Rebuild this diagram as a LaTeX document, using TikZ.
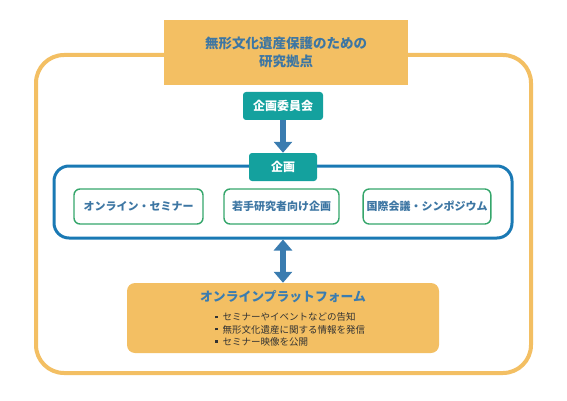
\documentclass[tikz,border=0pt]{standalone}
\usepackage{fontspec}
\setmainfont{Noto Sans CJK JP}
\usetikzlibrary{arrows.meta}
\definecolor{basefill}{HTML}{F3BF63}
\definecolor{teamfill}{HTML}{14A19E}
\definecolor{framecol}{HTML}{1A79B4}
\definecolor{arrowcol}{HTML}{3A7CB0}
\definecolor{itemcol}{HTML}{35A66B}
\definecolor{labelcol}{HTML}{3D76A3}
\definecolor{listcol}{HTML}{333333}
\newcommand{\listdot}{\raisebox{2.6pt}{\rule{2.4pt}{2.4pt}}\hspace{5pt}}

\tikzset{
  titlebox/.style={fill=basefill, minimum width=244pt, minimum height=65pt,
    align=center, text=labelcol, font=\fontsize{13.5}{18}\selectfont\bfseries},
  teambox/.style={fill=teamfill, rounded corners=3pt, text=white,
    minimum height=28pt, font=\fontsize{12}{14}\selectfont\bfseries},
  itembox/.style={draw=itemcol, line width=1.4pt, rounded corners=6pt, fill=white,
    minimum height=35pt, text=labelcol, font=\fontsize{11}{13}\selectfont\bfseries},
  bigarrow/.style={arrowcol, line width=5.5pt,
    -{Triangle[width=18pt,length=11pt]}},
  twoarrow/.style={arrowcol, line width=5.5pt,
    {Triangle[width=18pt,length=11pt]}-{Triangle[width=18pt,length=11pt]}},
}

\begin{document}
\begin{tikzpicture}[x=1pt,y=-1pt]
    \useasboundingbox (0,0) rectangle (567,401);

    % outer frame of the base
    \draw[basefill, line width=4pt, rounded corners=28pt] (36,55) rectangle (531,373);
    \node[titlebox] (title) at (286,52.5) {無形文化遺産保護のための\\研究拠点};

    % committee and planning
    \node[teambox, minimum width=80pt] (committee) at (283,106) {企画委員会};
    \node[draw=framecol, line width=3pt, rounded corners=15pt,
          minimum width=458pt, minimum height=72pt] (frame) at (283,202) {};
    \node[teambox, minimum width=68pt] (kikaku) at (283,167) {企画};
    \draw[bigarrow] (committee) -- (kikaku);

    \node[itembox, minimum width=129pt] (seminar) at (138.5,206.5) {オンライン・セミナー};
    \node[itembox, minimum width=115pt] (young) at (281.5,206.5) {若手研究者向け企画};
    \node[itembox, minimum width=124pt] (symposium) at (427,206.5) {国際会議・シンポジウム};

    % online platform
    \node[fill=basefill, rounded corners=8pt, minimum width=312pt,
          minimum height=70pt] (platform) at (283,318) {};
    \draw[twoarrow] (frame) -- (platform);
    \node[text=arrowcol, font=\fontsize{12.8}{15}\selectfont\bfseries]
        (platformtitle) at (283,297) {オンラインプラットフォーム};
    \node[anchor=west, align=left, text=listcol, inner sep=0pt,
          font=\fontsize{9.5}{12.2}\selectfont] (platformlist) at (215,329.5)
        {\listdot セミナーやイベントなどの告知\\\listdot 無形文化遺産に関する情報を発信\\\listdot セミナー映像を公開};
\end{tikzpicture}
\end{document}
